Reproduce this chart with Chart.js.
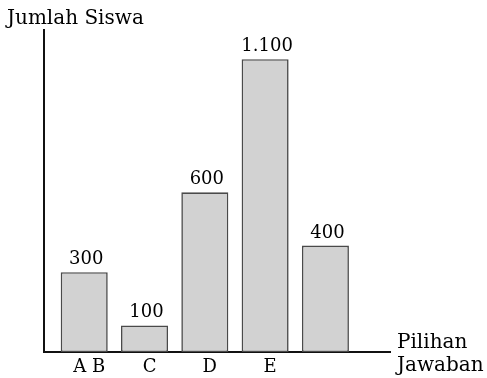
<!DOCTYPE html>
<html>
<head>
<meta charset="utf-8">
<script src="https://cdn.jsdelivr.net/npm/chart.js@4.4.1/dist/chart.umd.min.js"></script>
<style>
  html, body { margin: 0; padding: 0; background: #fff; }
  #wrap { width: 487px; height: 378px; }
</style>
</head>
<body>
<div id="wrap"><canvas id="c"></canvas></div>
<script>
// pilihan jawaban dan jumlah siswa
const categories = ['A B', 'C', 'D', 'E', ''];
const values = [300, 100, 600, 1100, 400];
const valueLabels = ['300', '100', '600', '1.100', '400'];

const FONT = '"DejaVu Serif", serif';

const labelsPlugin = {
    id: 'labels',
    afterDatasetsDraw(chart) {
        const ctx = chart.ctx;
        const meta = chart.getDatasetMeta(0);
        ctx.save();
        ctx.fillStyle = '#000';
        ctx.font = '18px ' + FONT;
        ctx.textAlign = 'center';
        ctx.textBaseline = 'alphabetic';
        meta.data.forEach((bar, i) => {
            ctx.fillText(valueLabels[i], bar.x + 2, bar.y - 8);
        });
        // judul sumbu
        ctx.font = '20px ' + FONT;
        ctx.textAlign = 'left';
        ctx.fillText('Jumlah Siswa', 7, 24);
        ctx.fillText('Pilihan', 397, 348);
        ctx.fillText('Jawaban', 397, 371);
        ctx.restore();
    }
};

new Chart(document.getElementById('c'), {
    type: 'bar',
    data: {
        datasets: [{
            data: values.map((v, i) => ({ x: i, y: v })),
            backgroundColor: '#d2d2d2',
            borderColor: '#4a4a4a',
            borderWidth: 1.6,
            borderSkipped: false,
            barPercentage: 0.78,
            categoryPercentage: 1
        }]
    },
    options: {
        responsive: true,
        maintainAspectRatio: false,
        animation: false,
        layout: { padding: { left: 44, right: 97, top: 30, bottom: 0 } },
        plugins: { legend: { display: false }, tooltip: { enabled: false } },
        scales: {
            x: {
                type: 'linear',
                offset: false,
                min: -0.667,
                max: 5.071,
                grid: { display: false, drawTicks: false, offset: false },
                border: { display: true, color: '#111', width: 2 },
                afterBuildTicks(scale) {
                    scale.ticks = [0, 1, 2, 3, 4].map(v => ({ value: v }));
                },
                afterFit(scale) { scale.height = 26; },
                ticks: {
                    color: '#000',
                    font: { family: FONT, size: 18 },
                    padding: 5,
                    labelOffset: 5,
                    maxRotation: 0,
                    callback: v => categories[v]
                }
            },
            y: {
                min: 0,
                max: 1210,
                grid: { display: false, drawTicks: false },
                border: { display: true, color: '#111', width: 2 },
                ticks: { display: false },
                afterFit(scale) { scale.width = 0; }
            }
        }
    },
    plugins: [labelsPlugin]
});
</script>
</body>
</html>
